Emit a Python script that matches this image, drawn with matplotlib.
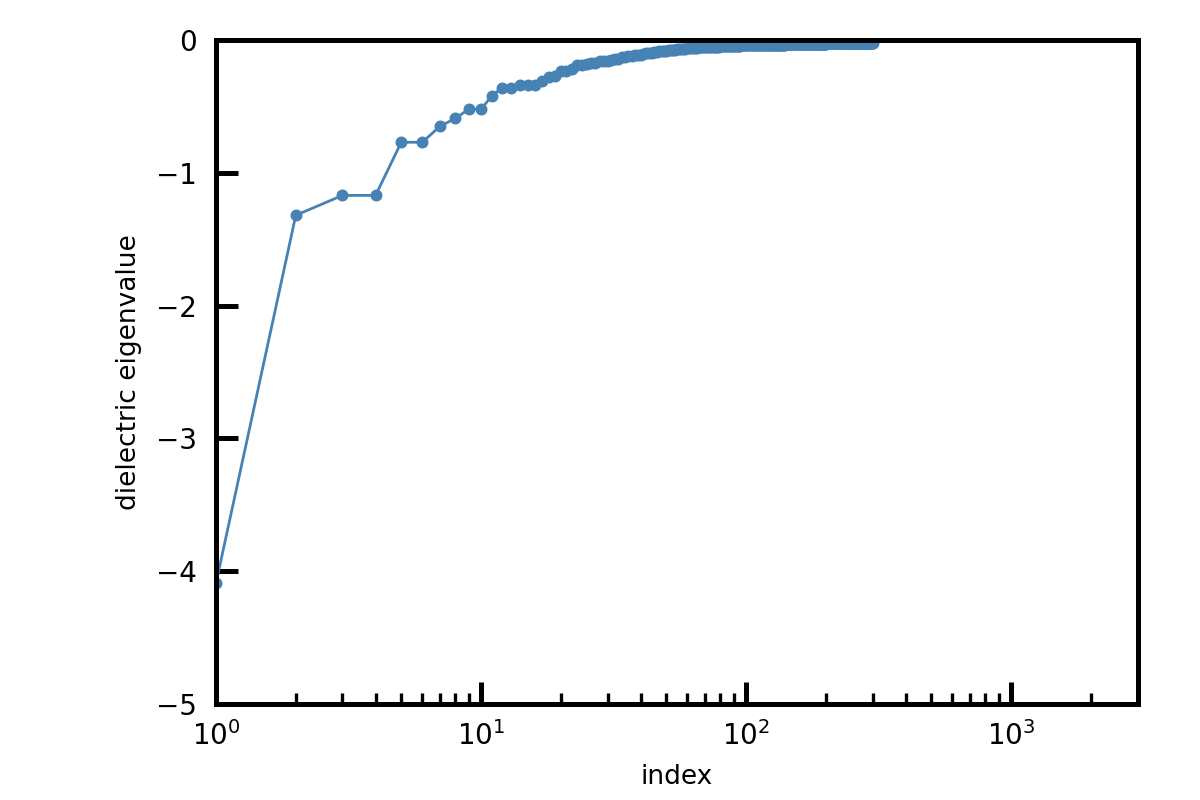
import numpy as np
import matplotlib
matplotlib.use("Agg")
import matplotlib.pyplot as plt
from matplotlib.ticker import LogLocator, NullFormatter

# First eigenvalues read individually (index 1..30)
first_values = [-4.09, -1.32, -1.17, -1.17, -0.77, -0.77, -0.65, -0.59, -0.52, -0.52,
                -0.42, -0.36, -0.36, -0.34, -0.34, -0.34, -0.31, -0.28, -0.27, -0.23,
                -0.23, -0.22, -0.19, -0.19, -0.18, -0.17, -0.17, -0.16, -0.155, -0.155]
# Remaining eigenvalues (index 31..300) as run-length values/counts
tail_values = [-0.15, -0.14, -0.13, -0.125, -0.12, -0.115, -0.11, -0.105, -0.10, -0.095,
               -0.09, -0.085, -0.08, -0.076, -0.072, -0.068, -0.065, -0.062, -0.058, -0.055,
               -0.052, -0.049, -0.046, -0.043, -0.040, -0.037, -0.034, -0.031, -0.028, -0.025,
               -0.022]
tail_counts = [1, 2, 1, 1, 2, 1, 2, 1, 2, 1,
               2, 2, 2, 2, 2, 2, 3, 3, 3, 4,
               4, 6, 7, 9, 10, 15, 20, 25, 35, 45,
               55]

eigs = np.concatenate([first_values, np.repeat(tail_values, tail_counts)])
index = np.arange(1, len(eigs) + 1)

fig = plt.figure(figsize=(6, 4), dpi=200)
ax = fig.add_axes([0.18, 0.12, 0.768, 0.83])
ax.plot(index, eigs, '-o', color='steelblue', lw=1.0, ms=3.3)
ax.set_xscale('log')
ax.set_xlim(1, 3000)
ax.set_ylim(-5, 0)
ax.set_yticks([-5, -4, -3, -2, -1, 0])
ax.set_yticklabels(['\u22125', '\u22124', '\u22123', '\u22122', '\u22121', '0'])
ax.xaxis.set_major_locator(LogLocator(base=10, numticks=10))
ax.xaxis.set_minor_locator(LogLocator(base=10, subs=np.arange(2, 10), numticks=20))
ax.xaxis.set_minor_formatter(NullFormatter())
for s in ax.spines.values():
    s.set_linewidth(1.8)
ax.tick_params(which='major', direction='in', length=8, width=1.8)
ax.tick_params(which='minor', direction='in', length=4, width=1.2)
ax.tick_params(axis='y', labelsize=10, pad=7)
ax.tick_params(axis='x', labelsize=10, pad=6)
ax.tick_params(top=False, right=False, which='both')
ax.set_xlabel('index', fontsize=9.5, labelpad=5)
ax.set_ylabel('dielectric eigenvalue', fontsize=9.5, labelpad=5)
fig.savefig('out.png', dpi=200)
